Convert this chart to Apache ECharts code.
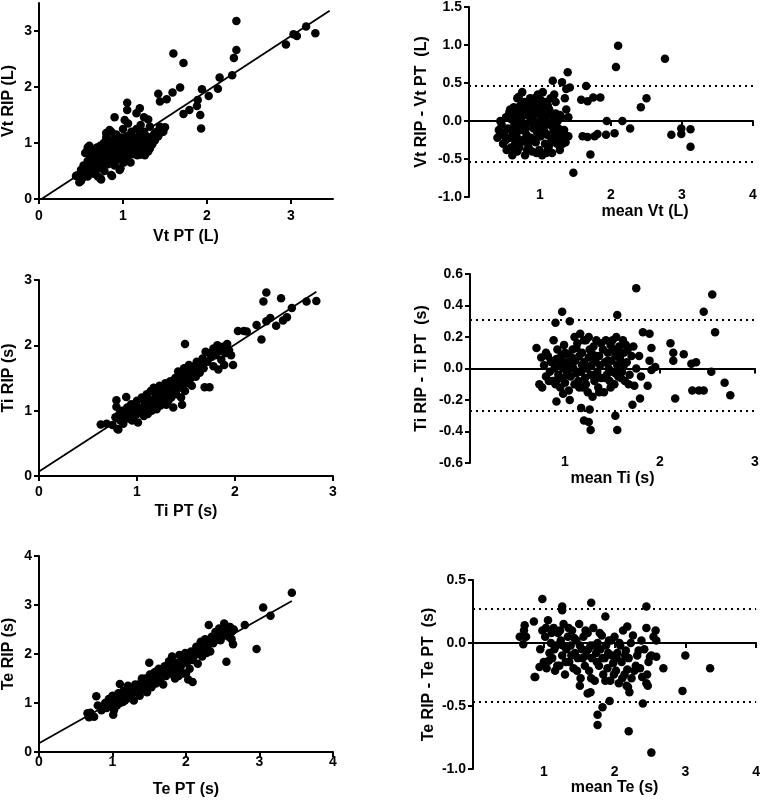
<!DOCTYPE html>
<html><head><meta charset="utf-8">
<script src="https://cdn.jsdelivr.net/npm/echarts@6/dist/echarts.min.js"></script>
<style>html,body{margin:0;padding:0;background:#fff}#c{width:763px;height:801px}</style>
</head><body><div id="c"></div>
<script>
// ---------- DATA ----------
// Panel A: Vt PT (x) vs Vt RIP (y), litres
const vtPoints = [
[2.35,3.18],[2.35,2.66],[2.32,2.52],[2.30,2.21],[1.60,2.60],[1.72,2.43],[1.68,1.99],[1.59,1.90],[1.42,1.88],[1.52,1.78],
[1.44,1.74],[1.94,1.96],[2.02,1.84],[2.13,1.97],[2.15,2.17],[1.89,1.77],[1.88,1.66],[1.79,1.59],[1.72,1.52],[1.92,1.50],
[1.93,1.26],[2.94,2.76],[3.03,2.94],[3.07,2.91],[3.18,3.08],[3.29,2.96],[1.05,1.72],[1.05,1.59],[1.20,1.62],[1.16,1.53],
[0.90,1.46],[1.25,1.46],[1.30,1.42],[1.32,1.29],[1.44,1.29],[1.44,1.18],[1.37,1.16],[1.02,1.41],[1.21,1.32],[0.86,0.43],
[0.74,0.35],[0.50,0.32],[0.44,0.41],[0.58,0.92],[0.55,0.82],[0.84,1.23],[0.80,1.18],[0.73,0.37],[0.87,0.41],[0.96,0.52],
[1.20,0.79],[1.30,0.85],
[0.45,0.42],[0.48,0.30],[0.50,0.52],[0.52,0.38],[0.53,0.60],[0.55,0.45],[0.56,0.55],[0.57,0.85],[0.58,0.68],[0.58,0.40],
[0.60,0.95],[0.60,0.62],[0.61,0.50],[0.62,0.75],[0.63,0.58],[0.64,0.82],[0.65,0.45],[0.65,0.70],[0.66,0.88],[0.67,0.62],
[0.68,0.52],[0.68,0.78],[0.69,0.92],[0.70,0.68],[0.70,0.40],[0.71,0.85],[0.72,0.60],[0.72,0.75],[0.73,0.95],[0.74,0.55],
[0.74,0.82],[0.75,0.70],[0.76,0.88],[0.76,0.62],[0.77,1.00],[0.78,0.78],[0.78,0.50],[0.79,0.90],[0.80,0.70],[0.80,1.10],
[0.81,0.82],[0.82,0.95],[0.82,0.62],[0.83,0.75],[0.84,1.05],[0.84,0.88],[0.85,0.68],[0.86,1.20],[0.86,0.80],[0.87,0.95],
[0.88,0.72],[0.88,1.00],[0.89,0.85],[0.90,0.60],[0.90,1.08],[0.91,0.90],[0.92,0.78],[0.92,1.15],[0.93,0.98],[0.94,0.70],
[0.94,0.88],[0.95,1.02],[0.96,0.82],[0.97,0.55],[0.97,0.95],[0.98,1.10],[0.99,0.75],[1.00,0.90],[1.00,1.25],[1.01,0.65],
[1.02,1.00],[1.03,0.85],[1.04,1.12],[1.05,0.72],[1.05,0.95],[1.06,1.35],[1.07,0.88],[1.08,1.05],[1.09,0.65],[1.10,1.20],
[1.10,0.92],[1.11,0.80],[1.12,1.00],[1.13,1.10],[1.14,0.85],[1.15,0.95],[1.16,1.25],[1.17,0.78],[1.18,1.05],[1.19,0.90],
[1.20,1.15],[1.21,0.82],[1.22,1.00],[1.23,1.08],[1.24,0.92],[1.25,1.20],[1.26,0.78],[1.27,1.00],[1.28,1.12],[1.30,0.95],
[1.31,1.05],[1.32,0.90],[1.34,1.10],[1.35,0.98],[1.38,1.05],[1.40,1.20],[1.42,1.12],[1.45,1.25],[1.48,1.20],[1.50,1.28]
];
const vtFit = [[0.03,0.0],[3.46,3.36]];

// Panel B: mean Vt (x) vs Vt RIP - Vt PT (y)
const vtDiffPoints = [
[2.10,0.99],[2.07,0.71],[2.76,0.82],[2.50,0.30],[2.42,0.18],[1.39,0.64],[1.31,0.51],[1.18,0.53],[1.65,0.46],[1.58,0.28],
[1.67,0.26],[1.75,0.31],[1.85,0.31],[1.94,0.00],[2.16,0.00],[2.27,-0.10],[1.93,-0.18],[2.05,-0.16],[1.81,-0.17],[1.77,-0.20],
[1.67,-0.21],[1.60,-0.20],[1.71,-0.44],[1.47,-0.68],[2.85,-0.18],[2.99,-0.10],[2.99,-0.17],[3.12,-0.11],[3.12,-0.34],[1.40,-0.20],
[1.37,0.15],[1.40,0.05],[1.37,0.42],[1.42,0.44],
[0.40,-0.22],[0.42,-0.12],[0.44,0.00],[0.46,-0.05],[0.48,-0.30],[0.50,-0.15],[0.52,0.05],[0.53,-0.38],[0.55,-0.10],[0.56,0.08],
[0.58,-0.22],[0.60,0.02],[0.61,-0.45],[0.62,-0.15],[0.63,0.18],[0.64,-0.05],[0.65,-0.30],[0.66,0.10],[0.67,-0.20],[0.68,0.30],
[0.69,-0.08],[0.70,0.05],[0.71,-0.35],[0.72,0.20],[0.73,-0.12],[0.74,0.00],[0.75,0.38],[0.76,-0.25],[0.77,0.12],[0.78,-0.05],
[0.79,-0.45],[0.80,0.22],[0.81,-0.18],[0.82,0.08],[0.83,-0.30],[0.84,0.15],[0.85,-0.02],[0.86,0.30],[0.87,-0.22],[0.88,0.05],
[0.89,-0.40],[0.90,0.18],[0.91,-0.10],[0.92,0.00],[0.93,0.25],[0.94,-0.28],[0.95,0.10],[0.96,-0.15],[0.97,0.35],[0.98,-0.05],
[0.99,-0.38],[1.00,0.20],[1.01,-0.20],[1.02,0.05],[1.03,-0.45],[1.04,0.38],[1.05,-0.10],[1.06,0.12],[1.07,-0.30],[1.08,0.00],
[1.09,0.25],[1.10,-0.18],[1.11,0.08],[1.12,-0.35],[1.13,0.15],[1.14,-0.05],[1.15,0.30],[1.16,-0.25],[1.17,-0.42],[1.18,0.05],
[1.19,-0.12],[1.20,0.35],[1.21,-0.20],[1.22,0.10],[1.24,-0.30],[1.25,0.00],[1.26,-0.10],[1.28,0.08],[1.30,-0.22],[1.32,-0.30],
[1.34,-0.12],[1.36,-0.28],[0.70,0.32],[0.88,0.28],[0.58,0.15],[0.95,-0.42],[1.10,-0.40],[0.84,-0.35],
[0.45,-0.18],[0.52,-0.25],[0.57,0.12],[0.59,-0.35],[0.62,0.05],[0.66,-0.12],[0.68,-0.40],[0.71,0.15],[0.73,-0.28],[0.76,0.08],
[0.78,0.25],[0.80,-0.10],[0.82,-0.38],[0.85,0.20],[0.87,0.10],[0.90,-0.25],[0.92,0.30],[0.94,-0.05],[0.96,0.15],[0.99,-0.20],
[1.01,0.28],[1.03,-0.08],[1.05,0.15],[1.07,-0.15],[1.09,-0.42],[1.11,0.20],[1.14,-0.30],[1.16,0.10],[1.19,-0.05],[1.22,0.25],
[1.25,-0.20],[1.28,-0.38],[1.30,0.05],[1.33,-0.15],[1.35,0.30]
];
const vtLimits = [0.46, -0.53];

// Panel C: Ti PT (x) vs Ti RIP (y), seconds
const tiPoints = [
[2.32,2.81],[2.29,2.67],[2.47,2.72],[2.73,2.67],[2.83,2.68],[2.58,2.57],[2.53,2.43],[2.49,2.38],[2.42,2.30],[2.36,2.42],
[2.32,2.37],[2.27,2.09],[2.22,2.31],[2.12,2.21],[2.03,2.22],[2.09,2.22],[1.49,2.02],[1.69,1.36],[1.74,1.36],[1.83,1.63],
[1.78,1.68],[1.98,1.70],[1.89,1.70],[1.46,1.09],[1.30,1.09],[0.79,1.06],[0.79,1.16],[0.81,0.71],[0.63,0.79],[0.69,0.80],
[0.89,1.21],
[0.75,0.78],[0.78,0.90],[0.80,0.72],[0.82,0.95],[0.83,0.85],[0.85,1.00],[0.86,0.80],[0.88,0.92],[0.90,1.05],[0.91,0.88],
[0.92,0.98],[0.94,1.10],[0.95,0.85],[0.96,1.00],[0.97,0.92],[0.98,1.08],[1.00,0.95],[1.00,1.15],[1.01,0.82],[1.02,1.05],
[1.04,0.98],[1.05,1.20],[1.06,1.02],[1.07,0.92],[1.08,1.12],[1.10,1.05],[1.10,1.25],[1.11,0.95],[1.12,1.18],[1.13,1.08],
[1.14,1.30],[1.15,1.00],[1.16,1.15],[1.17,1.35],[1.18,1.10],[1.19,1.22],[1.20,1.02],[1.21,1.28],[1.22,1.15],[1.23,1.38],
[1.24,1.08],[1.25,1.25],[1.26,1.18],[1.27,1.32],[1.28,1.12],[1.29,1.42],[1.30,1.22],[1.31,1.35],[1.32,1.15],[1.33,1.28],
[1.34,1.45],[1.35,1.20],[1.36,1.38],[1.37,1.05],[1.38,1.30],[1.39,1.50],[1.40,1.25],[1.41,1.42],[1.42,1.60],[1.43,1.35],
[1.44,1.48],[1.45,1.20],[1.46,1.55],[1.47,1.40],[1.48,1.65],[1.49,1.30],[1.50,1.50],[1.51,1.42],[1.52,1.58],[1.53,1.70],
[1.54,1.48],[1.55,1.62],[1.56,1.38],[1.57,1.55],[1.58,1.68],[1.60,1.52],[1.61,1.75],[1.62,1.62],[1.64,1.58],[1.65,1.72],
[1.67,1.80],[1.68,1.65],[1.70,1.90],[1.72,1.75],[1.74,1.88],[1.76,1.82],[1.78,1.95],[1.80,1.85],[1.82,2.00],[1.84,1.92],
[1.86,1.78],[1.88,1.98],[1.90,1.88],[1.92,2.02],[1.94,1.92],[1.96,1.85]
];
const tiFit = [[0.0,0.07],[2.83,2.82]];

// Panel D: mean Ti (x) vs Ti RIP - Ti PT (y)
const tiDiffPoints = [
[1.75,0.51],[2.55,0.47],[2.46,0.36],[2.58,0.23],[1.55,0.34],[0.97,0.36],[1.05,0.30],[0.90,0.29],[2.11,0.16],[2.14,0.10],
[2.25,0.09],[2.14,0.05],[2.33,0.03],[2.38,0.04],[2.54,-0.02],[2.16,-0.19],[2.34,-0.14],[2.41,-0.14],[2.46,-0.14],[2.68,-0.09],
[2.74,-0.17],[1.27,-0.39],[1.55,-0.39],[1.53,-0.30],[1.20,-0.33],[1.25,-0.34],[1.26,-0.26],[1.17,-0.25],[0.91,-0.21],[1.05,-0.20],
[1.71,-0.23],[1.79,-0.19],[1.87,-0.11],[1.73,-0.11],[1.89,0.05],[1.91,0.13],[1.95,0.01],[1.91,-0.01],[1.82,0.23],[1.89,0.22],
[0.70,0.13],[0.73,-0.10],[0.76,-0.12],
[0.75,0.07],[0.78,0.02],[0.80,-0.05],[0.82,0.08],[0.84,-0.02],[0.85,0.05],[0.87,-0.08],[0.88,0.18],[0.89,0.00],[0.90,-0.10],
[0.91,0.06],[0.92,0.12],[0.93,-0.04],[0.94,0.03],[0.95,-0.12],[0.96,0.08],[0.97,-0.06],[0.98,0.00],[0.99,0.15],[1.00,-0.09],
[1.01,0.04],[1.02,-0.02],[1.03,0.09],[1.04,-0.14],[1.05,0.02],[1.06,-0.05],[1.08,0.12],[1.09,0.00],[1.10,-0.10],[1.11,0.05],
[1.12,-0.03],[1.13,0.16],[1.14,-0.08],[1.15,0.08],[1.16,0.22],[1.17,-0.02],[1.18,0.10],[1.19,-0.12],[1.20,0.04],[1.21,-0.06],
[1.22,0.18],[1.23,0.00],[1.24,-0.15],[1.25,0.07],[1.26,0.12],[1.27,-0.04],[1.28,0.02],[1.29,-0.18],[1.30,0.14],[1.31,-0.08],
[1.32,0.05],[1.33,0.18],[1.34,-0.02],[1.35,-0.12],[1.36,0.08],[1.37,0.02],[1.38,-0.06],[1.40,0.12],[1.41,-0.15],[1.42,0.04],
[1.43,0.18],[1.44,-0.04],[1.45,0.10],[1.46,0.00],[1.47,-0.08],[1.48,0.15],[1.49,0.05],[1.50,-0.02],[1.51,0.12],[1.52,-0.10],
[1.53,0.08],[1.54,0.20],[1.55,0.02],[1.56,-0.05],[1.57,0.14],[1.58,0.06],[1.60,-0.02],[1.61,0.18],[1.62,0.10],[1.63,-0.08],
[1.65,0.04],[1.66,0.12],[1.68,-0.04],[1.70,0.08],
[0.80,0.10],[0.83,-0.08],[0.86,0.04],[0.92,-0.07],[0.95,0.05],[1.00,0.10],[1.03,-0.04],[1.07,0.07],[1.12,0.13],[1.15,-0.12],
[1.18,0.02],[1.22,-0.10],[1.25,0.20],[1.28,0.10],[1.30,-0.05],[1.33,0.08],[1.36,-0.15],[1.38,0.16],[1.42,-0.06],[1.45,0.05],
[1.48,-0.12],[1.50,0.18],[1.53,-0.03],[1.56,0.10],[1.59,-0.06],[1.62,0.02],[1.64,0.15],[1.67,-0.10],[1.72,0.14],[1.75,0.00],
[1.78,0.08],[1.80,-0.05],[1.20,0.18],[1.10,0.20],[0.98,-0.16]
];
const tiLimits = [0.31, -0.27];

// Panel E: Te PT (x) vs Te RIP (y), seconds
const tePoints = [
[3.44,3.25],[3.05,2.95],[3.15,2.78],[2.96,2.10],[2.55,1.84],[2.80,2.59],[2.31,2.59],[2.09,1.43],[2.03,1.48],[0.78,1.14],
[1.10,1.39],[1.50,1.82],[0.66,0.79],[0.68,0.71],[1.01,0.76],
[0.70,0.80],[0.75,0.72],[0.80,0.95],[0.85,0.85],[0.90,1.00],[0.92,0.90],[0.95,1.08],[0.98,0.95],[1.00,1.15],[1.02,0.85],
[1.04,1.05],[1.06,0.95],[1.08,1.20],[1.10,1.00],[1.12,1.12],[1.15,1.25],[1.17,1.05],[1.19,1.18],[1.21,1.35],[1.23,1.10],
[1.25,1.28],[1.27,1.20],[1.29,1.05],[1.31,1.38],[1.33,1.22],[1.35,1.30],[1.37,1.15],[1.39,1.42],[1.41,1.28],[1.43,1.35],
[1.45,1.50],[1.47,1.22],[1.49,1.40],[1.51,1.58],[1.53,1.32],[1.55,1.48],[1.57,1.62],[1.59,1.40],[1.61,1.55],[1.63,1.70],
[1.65,1.45],[1.67,1.62],[1.69,1.38],[1.71,1.75],[1.73,1.55],[1.75,1.68],[1.77,1.85],[1.79,1.60],[1.81,1.95],[1.83,1.72],
[1.85,1.50],[1.87,1.82],[1.89,1.65],[1.91,1.98],[1.93,1.75],[1.95,1.88],[1.97,1.60],[1.99,2.02],[2.01,1.82],[2.03,1.92],
[2.05,1.70],[2.07,2.05],[2.09,1.88],[2.12,1.98],[2.14,2.15],[2.16,1.80],[2.18,2.05],[2.20,2.25],[2.22,1.95],[2.24,2.12],
[2.26,2.30],[2.28,2.02],[2.30,2.18],[2.33,2.05],[2.35,2.35],[2.37,2.22],[2.40,2.45],[2.42,2.30],[2.45,2.52],[2.47,2.28],
[2.50,2.40],[2.52,2.62],[2.55,2.48],[2.58,2.35],[2.60,2.55],[2.62,2.45],[2.64,2.20],[2.65,2.50],
[0.95,0.95],[1.05,1.10],[1.14,1.02],[1.22,1.22],[1.30,1.30],[1.38,1.25],[1.46,1.40],[1.54,1.52],[1.62,1.48],[1.70,1.62],
[1.78,1.72],[1.86,1.70],[1.94,1.85],[2.02,1.95],[2.10,1.95],[2.18,2.00],[2.26,2.10],[2.34,2.28],[2.44,2.40],[2.58,2.55],
[2.62,2.30],[1.90,1.55],[2.00,1.60],[1.60,1.65],[1.40,1.50]
];
const teFit = [[0.0,0.18],[3.44,3.08]];

// Panel F: mean Te (x) vs Te RIP - Te PT (y)
const teDiffPoints = [
[0.98,0.35],[1.67,0.32],[1.26,0.29],[1.26,0.26],[2.45,0.29],[3.35,-0.20],[3.00,-0.10],[2.96,-0.38],[2.69,-0.20],[2.52,-0.87],
[2.20,-0.70],[1.76,-0.65],[1.76,-0.57],[1.83,-0.51],[1.93,-0.46],[2.40,-0.48],[1.66,-0.39],[1.62,-0.40],[1.51,-0.34],[0.88,-0.27],
[0.66,0.05],[0.71,-0.01],[0.73,0.14],[0.86,0.17],[2.45,0.12],[2.58,0.10],[2.59,0.02],[2.59,-0.11],[2.50,-0.11],[2.45,-0.32],
[2.47,-0.34],[2.39,-0.27],[2.21,-0.39],[2.17,-0.34],[2.18,-0.21],[2.18,0.13],[1.87,0.21],
[0.95,-0.05],[0.98,0.10],[1.00,-0.15],[1.02,0.05],[1.04,-0.20],[1.06,0.18],[1.08,-0.08],[1.10,0.00],[1.12,-0.12],[1.14,0.12],
[1.16,-0.22],[1.18,-0.02],[1.20,0.08],[1.22,-0.18],[1.24,0.02],[1.26,-0.10],[1.28,0.15],[1.30,-0.25],[1.32,-0.05],[1.34,0.05],
[1.36,-0.15],[1.38,-0.02],[1.40,0.10],[1.42,-0.20],[1.44,-0.08],[1.46,0.02],[1.48,-0.12],[1.50,0.15],[1.52,-0.28],[1.54,-0.05],
[1.56,0.05],[1.58,-0.18],[1.60,-0.10],[1.62,0.08],[1.64,-0.22],[1.66,-0.02],[1.68,-0.12],[1.70,0.12],[1.72,-0.30],[1.74,-0.08],
[1.76,0.00],[1.78,-0.18],[1.80,-0.05],[1.82,0.06],[1.84,-0.25],[1.86,-0.12],[1.88,-0.02],[1.90,-0.20],[1.92,0.02],[1.94,-0.30],
[1.96,-0.10],[1.98,-0.16],[2.00,0.05],[2.02,-0.22],[2.04,-0.08],[2.06,-0.32],[2.08,-0.02],[2.10,-0.15],[2.12,0.10],[2.14,-0.25],
[2.16,-0.06],[2.20,-0.12],[2.24,-0.28],[2.26,0.06],[2.30,-0.18],[2.34,-0.06],[2.38,0.02],
[0.72,0.10],[0.75,0.05],[0.87,-0.27],[0.94,-0.19],[1.03,0.12],[1.07,-0.14],[1.11,0.08],[1.15,-0.05],[1.19,-0.18],[1.23,0.10],
[1.27,-0.02],[1.31,-0.15],[1.35,0.12],[1.39,-0.10],[1.43,0.04],[1.47,-0.22],[1.51,-0.02],[1.55,-0.12],[1.59,0.10],[1.63,-0.05],
[1.67,-0.28],[1.71,-0.02],[1.75,-0.15],[1.79,0.08],[1.83,-0.12],[1.87,-0.30],[1.91,-0.08],[1.95,0.02],[1.99,-0.25],[2.03,-0.12],
[2.07,0.00],[2.11,-0.28],[2.15,-0.10],[2.19,-0.35],[2.23,0.00],[2.28,-0.22],[2.32,-0.10],[2.36,-0.20],[2.42,-0.05],[2.46,-0.25],
[2.52,-0.10],[2.55,0.05],[2.48,-0.15]
];
const teLimits = [0.27, -0.47];

// ---------- STYLE / LAYOUT ----------
const FONT = '"Liberation Sans", Arial, Helvetica, sans-serif';
const BLACK = '#000';
const tickFont = {fontFamily: FONT, fontWeight: 'bold', fontSize: 14, color: BLACK};
const nameFont = {fontFamily: FONT, fontWeight: 'bold', fontSize: 16, color: BLACK};
const lineStyle = {color: BLACK, width: 2};

const grids = [
  {left: 39, top: 3, width: 294, height: 196},
  {left: 469, top: 7, width: 284, height: 190},
  {left: 39, top: 280, width: 294, height: 196},
  {left: 470, top: 274, width: 285, height: 189},
  {left: 39, top: 556, width: 294, height: 196},
  {left: 473, top: 580, width: 285, height: 189}
];

function fmt1(v){ return Math.abs(v) < 1e-9 ? '0.0' : v.toFixed(1); }

function scatterX(g, max, name, margin, nameGap, hideMax){
  return {type:'value', gridIndex:g, min:0, max:max, interval:1, name:name, nameLocation:'middle', nameGap:nameGap,
    nameTextStyle:nameFont, axisLine:{onZero:false, lineStyle:lineStyle}, axisTick:{length:5, lineStyle:lineStyle},
    axisLabel:Object.assign({margin:margin, showMaxLabel:!hideMax}, tickFont), splitLine:{show:false}};
}
function scatterY(g, max, name, hideMax){
  return {type:'value', gridIndex:g, min:0, max:max, interval:1, name:name, nameLocation:'middle', nameGap:22,
    nameTextStyle:nameFont, axisLine:{onZero:false, lineStyle:lineStyle}, axisTick:{length:5, lineStyle:lineStyle},
    axisLabel:Object.assign({margin:7, showMaxLabel:!hideMax}, tickFont), splitLine:{show:false}};
}
function baXLabels(g, max, name, offset, nameGap, shift){
  return {type:'value', gridIndex:g, min:0, max:max, interval:1, position:'bottom', offset:offset,
    name:name, nameLocation:'middle', nameGap:nameGap,
    nameTextStyle:Object.assign({padding:[0,0,0,shift]}, nameFont),
    axisLine:{show:false, onZero:false}, axisTick:{show:false},
    axisLabel:Object.assign({margin:0, showMinLabel:false}, tickFont), splitLine:{show:false}};
}
function baXZero(g, max){
  return {type:'value', gridIndex:g, min:0, max:max, interval:1, position:'bottom',
    axisLine:{onZero:true, lineStyle:lineStyle}, axisTick:{length:5, lineStyle:lineStyle},
    axisLabel:{show:false}, splitLine:{show:false}};
}
function baY(g, min, max, step, name, nameGap){
  return {type:'value', gridIndex:g, min:min, max:max, interval:step, name:name, nameLocation:'middle', nameGap:nameGap,
    nameTextStyle:nameFont, axisLine:{onZero:false, lineStyle:lineStyle}, axisTick:{length:5, lineStyle:lineStyle},
    axisLabel:Object.assign({margin:7, formatter:fmt1}, tickFont), splitLine:{show:false}};
}

const xAxes = [
  scatterX(0, 3.5, 'Vt PT (L)', 10, 30, true),      // 0
  baXLabels(1, 4, 'mean Vt (L)', -9, 16, 68),        // 1
  baXZero(1, 4),                                     // 2
  scatterX(2, 3, 'Ti PT (s)', 9, 28, false),        // 3
  baXLabels(3, 3, 'mean Ti (s)', -8, 16, 0),         // 4
  baXZero(3, 3),                                     // 5
  scatterX(4, 4, 'Te PT (s)', 3, 30, false),        // 6
  baXLabels(5, 4, 'mean Te (s)', -4, 14, 0),         // 7
  baXZero(5, 4)                                      // 8
];
const yAxes = [
  scatterY(0, 3.5, 'Vt RIP (L)', true),
  baY(1, -1, 1.5, 0.5, 'Vt RIP - Vt PT  (L)', 39),
  scatterY(2, 3, 'Ti RIP (s)', false),
  baY(3, -0.6, 0.6, 0.2, 'Ti RIP - Ti PT  (s)', 40),
  scatterY(4, 4, 'Te RIP (s)', false),
  baY(5, -1, 0.5, 0.5, 'Te RIP - Te PT  (s)', 36)
];

function dots(xi, yi, data, limits){
  const s = {type:'scatter', xAxisIndex:xi, yAxisIndex:yi, data:data, symbol:'circle', symbolSize:8.5,
    itemStyle:{color:BLACK, opacity:1}, silent:true, z:3};
  if (limits){
    s.markLine = {silent:true, symbol:'none', label:{show:false},
      lineStyle:{color:BLACK, width:2, type:[2,4], opacity:1},
      data: limits.map(v => ({yAxis:v}))};
  }
  return s;
}
function fit(xi, yi, data){
  return {type:'line', xAxisIndex:xi, yAxisIndex:yi, data:data, symbol:'none', silent:true, z:2,
    lineStyle:{color:BLACK, width:1.8}};
}

const option = {
  animation:false,
  backgroundColor:'#fff',
  grid:grids,
  xAxis:xAxes,
  yAxis:yAxes,
  series:[
    dots(0,0,vtPoints), fit(0,0,vtFit),
    dots(1,1,vtDiffPoints,vtLimits),
    dots(3,2,tiPoints), fit(3,2,tiFit),
    dots(4,3,tiDiffPoints,tiLimits),
    dots(6,4,tePoints), fit(6,4,teFit),
    dots(7,5,teDiffPoints,teLimits)
  ]
};
const chart = echarts.init(document.getElementById('c'), null, {renderer:'canvas'});
chart.setOption(option);
</script>
</body></html>
